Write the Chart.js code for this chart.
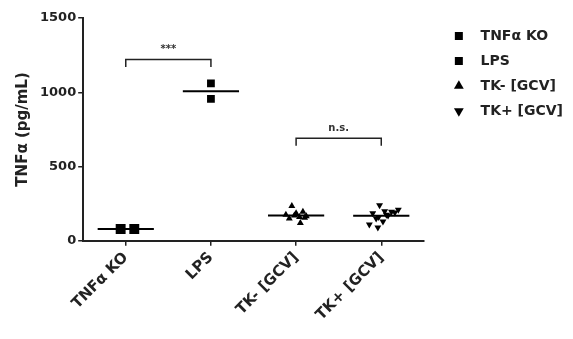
<!DOCTYPE html>
<html>
<head>
<meta charset="utf-8">
<script src="https://cdn.jsdelivr.net/npm/chart.js@4"></script>
<style>
  html, body { margin: 0; padding: 0; background: #fff; }
  #wrap { width: 573px; height: 339px; }
</style>
</head>
<body>
<div id="wrap"><canvas id="tnfChart"></canvas></div>
<script>
// groups on the x axis
var categories = ['TNFα KO', 'LPS', 'TK- [GCV]', 'TK+ [GCV]'];
var yTicks = [0, 500, 1000, 1500];

// TNF-alpha (pg/mL) per replicate, with the horizontal scatter offset of each dot
var koValues  = [80, 80];
var koSpread  = [-0.06, 0.1];
var lpsValues = [1060, 955];
var lpsSpread = [0, 0];
var tkMinusValues = [175, 235, 150, 185, 160, 120, 195, 165, 170, 155];
var tkMinusSpread = [-0.12, -0.05, -0.08, 0.0, 0.04, 0.05, 0.08, 0.12, -0.02, 0.1];
var tkPlusValues  = [240, 110, 185, 200, 170, 150, 195, 160, 210, 130, 175, 90, 190];
var tkPlusSpread  = [-0.02, -0.14, -0.1, 0.04, 0.08, -0.06, 0.12, -0.03, 0.2, 0.02, 0.06, -0.04, 0.16];

// significance brackets: [from group, to group, height, label]
var brackets = [
    [0, 1, 1220, '***'],
    [2, 3, 690, 'n.s.']
];

function points(group, values, spread) {
    var out = [];
    for (var i = 0; i < values.length; i++) {
        out.push({x: group + spread[i], y: values[i]});
    }
    return out;
}

function meanLine(group, values) {
    var sum = 0;
    values.forEach(function(v) { sum += v; });
    var m = sum / values.length;
    return [{x: group - 0.33, y: m}, {x: group + 0.33, y: m}];
}

var datasets = [
    {label: categories[0], data: points(0, koValues, koSpread), pointStyle: 'rect', pointRadius: 7},
    {label: categories[1], data: points(1, lpsValues, lpsSpread), pointStyle: 'rect', pointRadius: 5.5},
    {label: categories[2], data: points(2, tkMinusValues, tkMinusSpread), pointStyle: 'triangle', pointRadius: 4},
    {label: categories[3], data: points(3, tkPlusValues, tkPlusSpread), pointStyle: 'triangle', rotation: 180, pointRadius: 4}
];
datasets.forEach(function(d) {
    d.type = 'scatter';
    d.backgroundColor = '#000';
    d.borderColor = '#000';
    d.borderWidth = 0;
});

var groups = [koValues, lpsValues, tkMinusValues, tkPlusValues];
groups.forEach(function(vals, i) {
    datasets.push({
        type: 'line', label: 'mean', data: meanLine(i, vals),
        borderColor: '#000', borderWidth: 2, pointRadius: 0, showLine: true
    });
});

brackets.forEach(function(b) {
    var drop = 50;
    datasets.push({
        type: 'line', label: 'bracket',
        data: [{x: b[0], y: b[2] - drop}, {x: b[0], y: b[2]}, {x: b[1], y: b[2]}, {x: b[1], y: b[2] - drop}],
        borderColor: '#222', borderWidth: 1.5, pointRadius: 0, showLine: true
    });
});

var bracketText = {
    id: 'bracketText',
    afterDatasetsDraw: function(chart) {
        var ctx = chart.ctx, xs = chart.scales.x, ys = chart.scales.y;
        ctx.save();
        ctx.fillStyle = '#333';
        ctx.font = 'bold 10px "DejaVu Sans"';
        ctx.textAlign = 'center';
        ctx.textBaseline = 'bottom';
        brackets.forEach(function(b) {
            var px = xs.getPixelForValue((b[0] + b[1]) / 2);
            var py = ys.getPixelForValue(b[2]);
            ctx.fillText(b[3], px, py - 5);
        });
        ctx.restore();
    }
};

var whiteBg = {
    id: 'whiteBg',
    beforeDraw: function(chart) {
        var ctx = chart.ctx;
        ctx.save();
        ctx.fillStyle = '#fff';
        ctx.fillRect(0, 0, chart.width, chart.height);
        ctx.restore();
    }
};

var ctx = document.getElementById('tnfChart').getContext('2d');
var tnfChart = new Chart(ctx, {
    type: 'scatter',
    data: {datasets: datasets},
    plugins: [whiteBg, bracketText],
    options: {
        responsive: true,
        maintainAspectRatio: false,
        animation: false,
        layout: {padding: {top: 18, right: 0, bottom: 12, left: 12}},
        plugins: {
            tooltip: {enabled: false},
            legend: {
                position: 'right',
                align: 'start',
                maxWidth: 150,
                labels: {
                    usePointStyle: true,
                    boxWidth: 10,
                    boxHeight: 8,
                    padding: 11,
                    color: '#222',
                    font: {family: 'DejaVu Sans', weight: 'bold', size: 14},
                    filter: function(item) {
                        return categories.indexOf(item.text.trim()) >= 0;
                    },
                    generateLabels: function(chart) {
                        var items = Chart.defaults.plugins.legend.labels.generateLabels(chart);
                        items.forEach(function(it) { it.text = '  ' + it.text; });
                        return items;
                    }
                }
            }
        },
        scales: {
            x: {
                type: 'linear',
                min: -0.5,
                max: 3.5,
                afterBuildTicks: function(axis) {
                    axis.ticks = categories.map(function(c, i) { return {value: i}; });
                },
                ticks: {
                    minRotation: 45,
                    maxRotation: 45,
                    color: '#222',
                    font: {family: 'DejaVu Sans', weight: 'bold', size: 15},
                    callback: function(v) { return categories[v]; }
                },
                grid: {drawOnChartArea: false, drawTicks: true, tickLength: 5, color: '#222', lineWidth: 1.5},
                border: {color: '#222', width: 2}
            },
            y: {
                min: 0,
                max: 1500,
                afterBuildTicks: function(axis) {
                    axis.ticks = yTicks.map(function(v) { return {value: v}; });
                },
                ticks: {
                    color: '#222',
                    padding: 2,
                    font: {family: 'DejaVu Sans', weight: 'bold', size: 13},
                    callback: function(v) { return String(v); }
                },
                title: {
                    display: true,
                    text: 'TNFα (pg/mL)',
                    color: '#222',
                    padding: {top: 2, bottom: 6},
                    font: {family: 'DejaVu Sans', weight: 'bold', size: 15}
                },
                grid: {drawOnChartArea: false, drawTicks: true, tickLength: 5, color: '#222', lineWidth: 1.5},
                border: {color: '#222', width: 2}
            },
            // empty right-hand axis, only keeps a gap between the plot and the legend
            gap: {
                type: 'linear',
                position: 'right',
                display: true,
                ticks: {display: false},
                grid: {display: false},
                border: {display: false},
                afterFit: function(scale) { scale.width = 19; }
            }
        }
    }
});
</script>
</body>
</html>
